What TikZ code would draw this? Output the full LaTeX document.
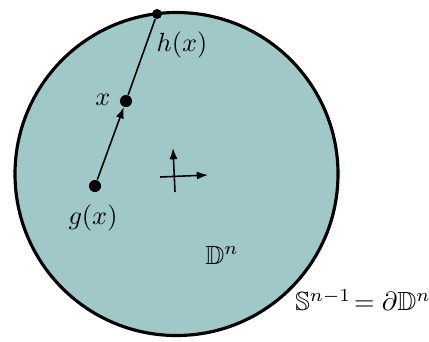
\documentclass[tikz,border=0pt]{standalone}
\usepackage{amsmath,amssymb}
\usepackage{xcolor}
\usetikzlibrary{arrows.meta,positioning}
\definecolor{diskfill}{RGB}{160,200,200}

\begin{document}
\begin{tikzpicture}[x=0.38pt, y=-0.38pt, every node/.style={font=\normalsize}, dot/.style={circle, fill=black, inner sep=0pt, minimum size=4.6pt}, arr/.style={-{Latex[length=1.5mm, width=1.1mm]}, semithick}]
\useasboundingbox (0,0) rectangle (429,341);
\draw[very thick, fill=diskfill] (176.5,174) circle[radius=161.5];
\node[dot] (g) at (95,186) {};
\node[dot] (x) at (126,101) {};
\node[dot, minimum size=3.8pt] (h) at (157,14) {};
\node (gl) at (93,218) {$g(x)$};
\node (xl) at (103,100) {$x$};
\node (hl) at (182,45) {$h(x)$};
\node (dn) at (222,255) {$\mathbb{D}^n$};
\node (sn) at (363,300) {$\mathbb{S}^{n-1}\!=\partial\mathbb{D}^n$};
\coordinate (vb) at (175,192); \coordinate (vt) at (173,148);
\coordinate (el) at (160,177); \coordinate (er) at (208,175);
\draw[arr] (g) -- (x); \draw[semithick] (x) -- (h);
\draw[arr] (vb) -- (vt); \draw[arr] (el) -- (er);
\end{tikzpicture}
\end{document}
